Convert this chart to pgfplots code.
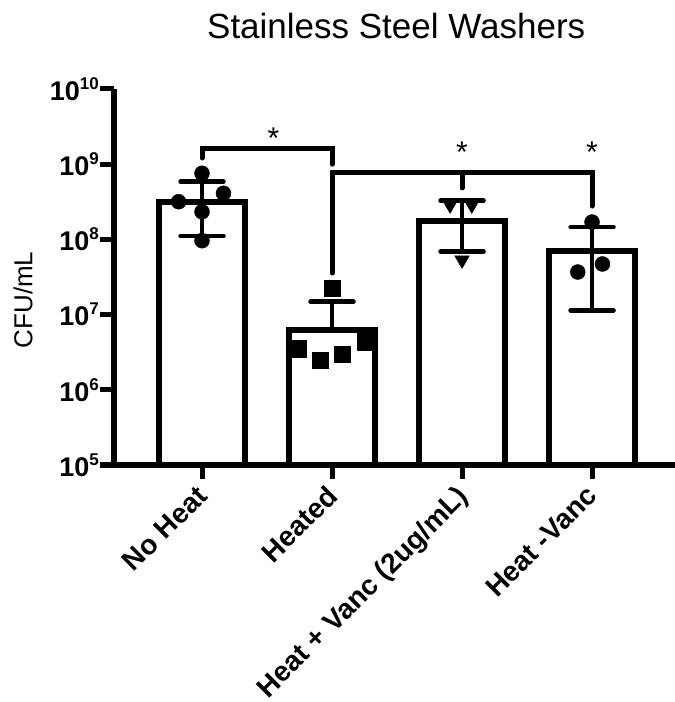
\documentclass[border=0pt]{standalone}
\usepackage{pgfplots}
\pgfplotsset{compat=1.18}
\usepackage{fontspec}
\setmainfont{Liberation Sans}
\begin{document}
\begin{tikzpicture}
\begin{axis}[
  scale only axis, width=561pt, height=376pt,
  ymode=log, log basis y=10, ymin=1e5, ymax=1e10, log origin=infty,
  xmin=-0.677, xmax=3.638,
  axis lines=left,
  axis line style={-, line width=6.5pt, black},
  x axis line style={shorten <=-14pt},
  tick align=outside,
  major tick length=14pt, minor tick length=8pt,
  every major tick/.append style={line width=5pt, black},
  every minor tick/.append style={line width=3pt, black},
  xtick={0,1,2,3},
  xticklabels={No Heat, Heated, Heat + Vanc (2ug/mL), Heat -Vanc},
  x tick label style={xshift=-7pt, rotate=45, anchor=north east, font=\bfseries\fontsize{28}{28}\selectfont},
  ytick={1e5,1e6,1e7,1e8,1e9,1e10},
  yticklabel={\pgfmathtruncatemacro{\e}{round(\tick)}\textbf{10}\raisebox{11pt}{\fontsize{17}{17}\selectfont\bfseries\e}},
  y tick label style={font=\fontsize{27}{27}\selectfont, inner xsep=1pt},
  clip=false,
]
% bars with error bars
\addplot[ybar, bar width=0.655, fill=white, draw=black, line width=6pt,
  error bars/.cd, y dir=both, y explicit,
  error bar style={line width=4.5pt, black},
  error mark options={rotate=90, mark size=21.5pt, line width=4.5pt, line cap=round, black}]
  table[x=x, y=y, y error plus=ep, y error minus=em] {
x y ep em
0 3.19e8 2.66e8 2.08e8
1 6.24e6 8.6e6 0
2 1.76e8 1.51e8 1.07e8
3 7.11e7 7.5e7 5.97e7
};
% individual points
\addplot[only marks, mark=*, mark size=7.5pt, black] coordinates {
(0,7.57e8) (-0.18,3.17e8) (0.165,4.10e8) (0,2.33e8) (0,9.62e7)};
\addplot[only marks, mark=square*, mark size=8.3pt, black] coordinates {
(1,2.24e7) (0.736,3.52e6) (0.908,2.49e6) (1.077,2.97e6) (1.254,4.37e6)};
\addplot[only marks, mark=triangle*, mark options={rotate=180}, mark size=8.5pt, black] coordinates {
(1.908,2.87e8) (2.075,2.87e8) (2,5.32e7)};
\addplot[only marks, mark=*, mark size=7.5pt, black] coordinates {
(3,1.70e8) (2.89,3.68e7) (3.08,4.71e7)};
% significance brackets
\addplot[line width=5pt, line cap=round, black] coordinates {(0,1.21e9) (0,1.64e9) (1,1.64e9) (1,1.0e9)};
\addplot[line width=5pt, line cap=round, black] coordinates {(1,3.57e7) (1,7.64e8) (3,7.64e8) (3,2.78e8)};
\addplot[line width=5pt, line cap=round, black] coordinates {(2,7.64e8) (2,4.83e8)};
\node[font=\fontsize{30}{30}\selectfont, yshift=-7pt] at (axis cs:0.55,2.76e9) {*};
\node[font=\fontsize{30}{30}\selectfont, yshift=-7pt] at (axis cs:2,1.8e9) {*};
\node[font=\fontsize{30}{30}\selectfont, yshift=-7pt] at (axis cs:3,1.8e9) {*};
% title and y label
\node[anchor=base, font=\fontsize{35}{35}\selectfont, yshift=50pt] at (rel axis cs:0.503,1) {Stainless Steel Washers};
\node[rotate=90, font=\fontsize{26}{26}\selectfont] at ([xshift=-91pt]rel axis cs:0,0.439) {CFU/mL};
\end{axis}
\pgfresetboundingbox
\path[use as bounding box] (-114pt,-237pt) rectangle (561pt,465pt);
\end{tikzpicture}
\end{document}
